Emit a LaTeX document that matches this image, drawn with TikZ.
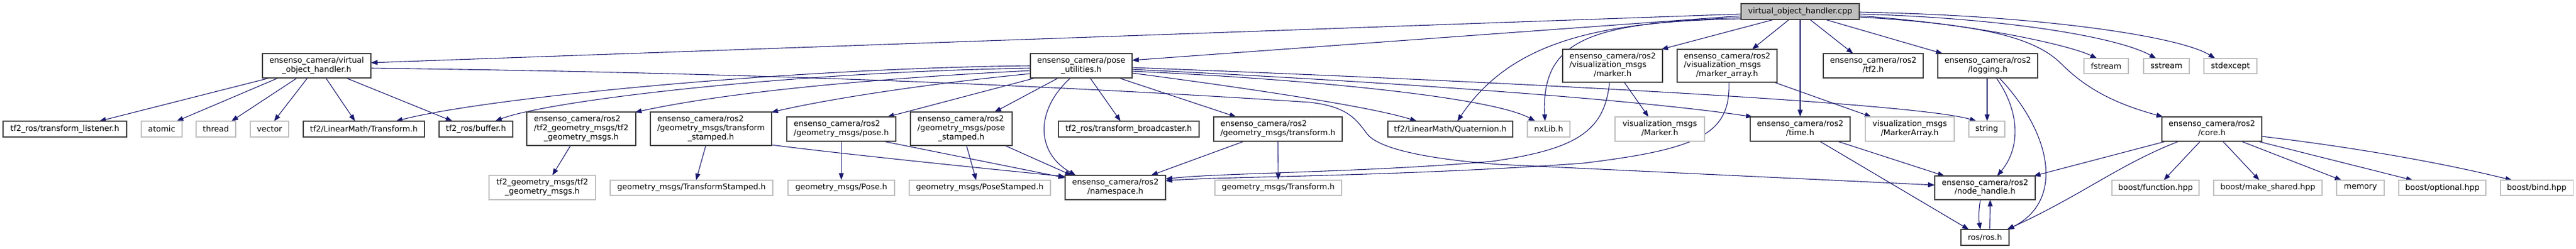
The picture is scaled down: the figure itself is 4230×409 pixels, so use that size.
\documentclass[tikz,border=0pt]{standalone}
\usepackage{fontspec}
\setmainfont{DejaVu Sans}
\usetikzlibrary{arrows.meta,calc}
\definecolor{edgecol}{HTML}{191970}
\definecolor{docborder}{HTML}{404040}
\definecolor{extborder}{HTML}{BFBFBF}
\definecolor{rootfill}{HTML}{BFBFBF}
\newcommand{\fs}{\fontsize{13pt}{14.6pt}\selectfont}
\newcommand{\twoline}[2]{\begin{tabular}{@{}l@{}}#1\\\multicolumn{1}{@{}c@{}}{#2}\end{tabular}}
\newcommand{\threeline}[3]{\begin{tabular}{@{}l@{}}#1\\#2\\\multicolumn{1}{@{}c@{}}{#3}\end{tabular}}
\pgfdeclarelayer{background}
\pgfsetlayers{background,main}
\tikzset{
  doc/.style={draw=docborder, fill=white, line width=1.1pt, inner sep=0pt, font=\fs, text=black},
  ext/.style={draw=extborder, fill=white, line width=1.1pt, inner sep=0pt, font=\fs, text=black},
  rootn/.style={doc, fill=rootfill},
  sz/.style 2 args={minimum width=#1pt, minimum height=#2pt},
  e/.style={draw=edgecol, line width=1.1pt, -{Triangle[length=11pt,width=8pt]}}
}
\begin{document}
\begin{tikzpicture}[x=1pt,y=-1pt]
\useasboundingbox (0,0) rectangle (4230,409);

\node[rootn, sz={194}{26}] (root) at (2956,19) {virtual\_object\_handler.cpp};
\node[doc, sz={178}{40}] (voh) at (520,108) {\twoline{ensenso\_camera/virtual}{\_object\_handler.h}};
\node[doc, sz={203}{26}] (tl) at (106.5,212) {tf2\_ros/transform\_listener.h};
\node[ext, sz={67}{26}] (atomic) at (265.5,212) {atomic};
\node[ext, sz={65}{26}] (thread) at (354.5,212) {thread};
\node[ext, sz={63}{26}] (vector) at (442.5,212) {vector};
\node[doc, sz={199}{26}] (tfT) at (597.5,212) {tf2/LinearMath/Transform.h};
\node[doc, sz={121}{26}] (buffer) at (781.5,212) {tf2\_ros/buffer.h};
\node[doc, sz={179}{55}] (tgm) at (954.5,211.5) {\threeline{ensenso\_camera/ros2}{/tf2\_geometry\_msgs/tf2}{\_geometry\_msgs.h}};
\node[ext, sz={175}{40}] (tgmx) at (890.5,308) {\twoline{tf2\_geometry\_msgs/tf2}{\_geometry\_msgs.h}};
\node[ext, sz={267}{25}] (tsx) at (1135.5,308.5) {geometry\_msgs/TransformStamped.h};
\node[doc, sz={199}{55}] (ts) at (1167.5,211.5) {\threeline{ensenso\_camera/ros2}{/geometry\_msgs/transform}{\_stamped.h}};
\node[doc, sz={179}{40}] (pose) at (1381.5,212) {\twoline{ensenso\_camera/ros2}{/geometry\_msgs/pose.h}};
\node[ext, sz={175}{25}] (posex) at (1381.5,308.5) {geometry\_msgs/Pose.h};
\node[doc, sz={167}{55}] (ps) at (1578.5,211.5) {\threeline{ensenso\_camera/ros2}{/geometry\_msgs/pose}{\_stamped.h}};
\node[ext, sz={232}{25}] (psx) at (1609,308.5) {geometry\_msgs/PoseStamped.h};
\node[doc, sz={167}{40}] (pu) at (1775.5,108) {\twoline{ensenso\_camera/pose}{\_utilities.h}};
\node[doc, sz={231}{26}] (tb) at (1853.5,212) {tf2\_ros/transform\_broadcaster.h};
\node[doc, sz={165}{40}] (ns) at (1831.5,308) {\twoline{ensenso\_camera/ros2}{/namespace.h}};
\node[doc, sz={211}{40}] (tr) at (2098.5,212) {\twoline{ensenso\_camera/ros2}{/geometry\_msgs/transform.h}};
\node[ext, sz={208}{25}] (trx) at (2099,308.5) {geometry\_msgs/Transform.h};
\node[doc, sz={205}{26}] (quat) at (2381.5,212) {tf2/LinearMath/Quaternion.h};
\node[ext, sz={70}{26}] (nx) at (2543,212) {nxLib.h};
\node[doc, sz={164}{54}] (mk) at (2648,108) {\threeline{ensenso\_camera/ros2}{/visualization\_msgs}{/marker.h}};
\node[ext, sz={147}{40}] (mkx) at (2725.5,212) {\twoline{visualization\_msgs}{/Marker.h}};
\node[doc, sz={164}{54}] (ma) at (2836,108) {\threeline{ensenso\_camera/ros2}{/visualization\_msgs}{/marker\_array.h}};
\node[doc, sz={164}{40}] (tftwo) at (3076,108) {\twoline{ensenso\_camera/ros2}{/tf2.h}};
\node[doc, sz={164}{40}] (time) at (2956,212) {\twoline{ensenso\_camera/ros2}{/time.h}};
\node[ext, sz={146}{40}] (max) at (3136,212) {\twoline{visualization\_msgs}{/MarkerArray.h}};
\node[doc, sz={164}{40}] (log) at (3264,108) {\twoline{ensenso\_camera/ros2}{/logging.h}};
\node[ext, sz={59}{26}] (str) at (3262.5,212) {string};
\node[ext, sz={73}{25}] (fst) at (3458.5,108.5) {fstream};
\node[ext, sz={75}{25}] (sst) at (3557.5,108.5) {sstream};
\node[ext, sz={87}{25}] (sex) at (3662.5,108.5) {stdexcept};
\node[doc, sz={164}{40}] (core) at (3632,212) {\twoline{ensenso\_camera/ros2}{/core.h}};
\node[doc, sz={165}{39}] (nh) at (3259.5,308.5) {\twoline{ensenso\_camera/ros2}{/node\_handle.h}};
\node[doc, sz={79}{26}] (ros) at (3259.5,390) {ros/ros.h};
\node[ext, sz={143}{25}] (bfn) at (3539.5,308.5) {boost/function.hpp};
\node[ext, sz={178}{25}] (bms) at (3724,308.5) {boost/make\_shared.hpp};
\node[ext, sz={78}{25}] (mem) at (3876,308.5) {memory};
\node[ext, sz={143}{25}] (bop) at (4010.5,308.5) {boost/optional.hpp};
\node[ext, sz={119}{25}] (bbd) at (4165.5,308.5) {boost/bind.hpp};

\begin{pgfonlayer}{background}
% root
\draw[e] ($(root)+(-97,4)$) -- ($(voh)+(89,-5)$);
\draw[e] ($(root)+(-97,7)$) -- ($(pu)+(83.5,-9)$);
\draw[e] ($(root)+(-96,12)$) .. controls (2620,35) and (2480,70) .. ($(quat)+(11.5,-13)$);
\draw[e] ($(root)+(-97,10)$) .. controls (2620,38) and (2530,60) .. ($(nx)+(-6,-13)$);
\draw[e] ($(root)+(-43,13)$) -- ($(mk)+(80,-27)$);
\draw[e] ($(root)+(-18,13)$) -- ($(ma)+(41,-27)$);
\draw[e] (root.south) -- (time.north);
\draw[e] ($(root)+(16,13)$) -- ($(tftwo)+(-33,-20)$);
\draw[e] ($(root)+(41,13)$) -- ($(log)+(-74,-20)$);
\draw[e] ($(root)+(97,7)$) .. controls (3250,40) and (3400,75) .. ($(fst)+(-15,-12.5)$);
\draw[e] ($(root)+(97,4)$) .. controls (3300,30) and (3480,62) .. ($(sst)+(-17,-12.5)$);
\draw[e] ($(root)+(97,1)$) .. controls (3350,25) and (3580,60) .. ($(sex)+(-25,-12.5)$);
\draw[e] ($(root)+(97,9)$) .. controls (3250,40) and (3340,60) .. (3385,105) .. controls (3430,150) and (3480,172) .. ($(core)+(-80,-20)$);
% virtual_object_handler.h
\draw[e] ($(voh)+(-77,20)$) -- ($(tl)+(56.5,-13)$);
\draw[e] ($(voh)+(-63,20)$) -- ($(atomic)+(24.5,-13)$);
\draw[e] ($(voh)+(-32,20)$) -- ($(thread)+(25.5,-13)$);
\draw[e] ($(voh)+(-15,20)$) -- ($(vector)+(7.5,-13)$);
\draw[e] ($(voh)+(15,20)$) -- ($(tfT)+(-14.5,-13)$);
\draw[e] ($(voh)+(48,20)$) -- ($(buffer)+(-38.5,-13)$);
\draw[e] ($(voh)+(89,4)$) .. controls (1300,120) and (1800,145) .. (2150,168) .. controls (2215,175) and (2228,198) .. (2245,220) .. controls (2262,242) and (2330,260) .. (2460,270) -- ($(nh)+(-82.5,-4.5)$);
% pose_utilities.h
\draw[e] ($(pu)+(-83.5,0)$) .. controls (1300,112) and (800,160) .. ($(tfT)+(52.5,-13)$);
\draw[e] ($(pu)+(-83.5,4)$) .. controls (1300,118) and (900,165) .. ($(buffer)+(31.5,-13)$);
\draw[e] ($(pu)+(-83.5,8)$) .. controls (1450,128) and (1200,150) .. ($(tgm)+(88,-27)$);
\draw[e] ($(pu)+(-83.5,13)$) .. controls (1500,140) and (1350,165) .. ($(ts)+(99,-27)$);
\draw[e] ($(pu)+(-75.5,20)$) -- ($(pose)+(75.5,-20)$);
\draw[e] ($(pu)+(-37.5,20)$) -- ($(ps)+(54.5,-27.5)$);
\draw[e] ($(pu)+(14.5,20)$) -- ($(tb)+(-13.5,-13)$);
\draw[e] ($(pu)+(-17.5,20)$) .. controls (1700,180) and (1700,250) .. ($(ns)+(-65,-20)$);
\draw[e] ($(pu)+(61.5,20)$) -- ($(tr)+(-68.5,-20)$);
\draw[e] ($(pu)+(83.5,12)$) .. controls (2050,145) and (2250,175) .. ($(quat)+(-55,-13)$);
\draw[e] ($(pu)+(83.5,9)$) .. controls (2150,130) and (2450,160) .. ($(nx)+(-22,-13)$);
\draw[e] ($(pu)+(83.5,6)$) .. controls (2300,135) and (2700,165) .. ($(time)+(-78,-20)$);
\draw[e] ($(pu)+(83.5,3)$) .. controls (2500,135) and (3150,170) .. ($(str)+(-17,-13)$);
% second level
\draw[e] ($(tgm)+(-17.5,27.5)$) -- ($(tgmx)+(16.5,-20)$);
\draw[e] ($(ts)+(-8.5,27.5)$) -- ($(tsx)+(7.5,-12.5)$);
\draw[e] ($(ts)+(99.5,26.5)$) .. controls (1400,255) and (1650,280) .. ($(ns)+(-82.5,-18)$);
\draw[e] (pose.south) -- (posex.north);
\draw[e] ($(pose)+(68.5,20)$) -- ($(ns)+(-82.5,-16)$);
\draw[e] ($(ps)+(8.5,27.5)$) -- ($(psx)+(-6,-12.5)$);
\draw[e] ($(ps)+(71.5,27.5)$) -- ($(ns)+(-71.5,-20)$);
\draw[e] (tr.south) -- (trx.north);
\draw[e] ($(tr)+(-55.5,20)$) -- ($(ns)+(58.5,-20)$);
\draw[e] ($(mk)+(19,27)$) -- ($(mkx)+(-18.5,-20)$);
\draw[e] ($(mk)+(-5,27)$) .. controls (2635,215) and (2590,245) .. (2450,265) .. controls (2250,283) and (2000,284) .. ($(ns)+(82.5,-14)$);
\draw[e] ($(ma)+(77,27)$) -- ($(max)+(-63,-20)$);
\draw[e] ($(ma)+(3,27)$) .. controls (2842,220) and (2790,245) .. (2600,268) .. controls (2300,290) and (2000,290) .. ($(ns)+(82.5,-11)$);
\draw[e] ($(time)+(61,20)$) -- ($(nh)+(-66.5,-19.5)$);
\draw[e] ($(time)+(32,20)$) -- ($(ros)+(-26.5,-13)$);
\draw[e] ($(log)+(-1,20)$) -- ($(str)+(0.5,-13)$);
\draw[e] ($(log)+(14,20)$) .. controls (3315,180) and (3320,240) .. ($(nh)+(20,-19.5)$);
\draw[e] ($(log)+(19,20)$) .. controls (3370,220) and (3390,330) .. ($(ros)+(37,-13)$);
\draw[e] ($(core)+(-75,20)$) -- ($(nh)+(80,-19.5)$);
\draw[e] ($(core)+(-54,20)$) .. controls (3480,270) and (3420,320) .. ($(ros)+(36,-13)$);
\draw[e] ($(core)+(-19,20)$) -- ($(bfn)+(13.5,-12.5)$);
\draw[e] ($(core)+(18,20)$) -- ($(bms)+(-14,-12.5)$);
\draw[e] ($(core)+(48,20)$) -- ($(mem)+(-31,-12.5)$);
\draw[e] ($(core)+(75,20)$) -- ($(bop)+(-48.5,-12.5)$);
\draw[e] ($(core)+(82,12)$) .. controls (3850,240) and (4000,265) .. ($(bbd)+(-40.5,-12.5)$);
\draw[e] ($(nh)+(-7.5,19.5)$) .. controls (3249,345) and (3249,360) .. ($(ros)+(-7.5,-13)$);
\draw[e] ($(ros)+(7.5,-13)$) .. controls (3268,360) and (3268,345) .. ($(nh)+(8.5,19.5)$);
\end{pgfonlayer}
\end{tikzpicture}
\end{document}
